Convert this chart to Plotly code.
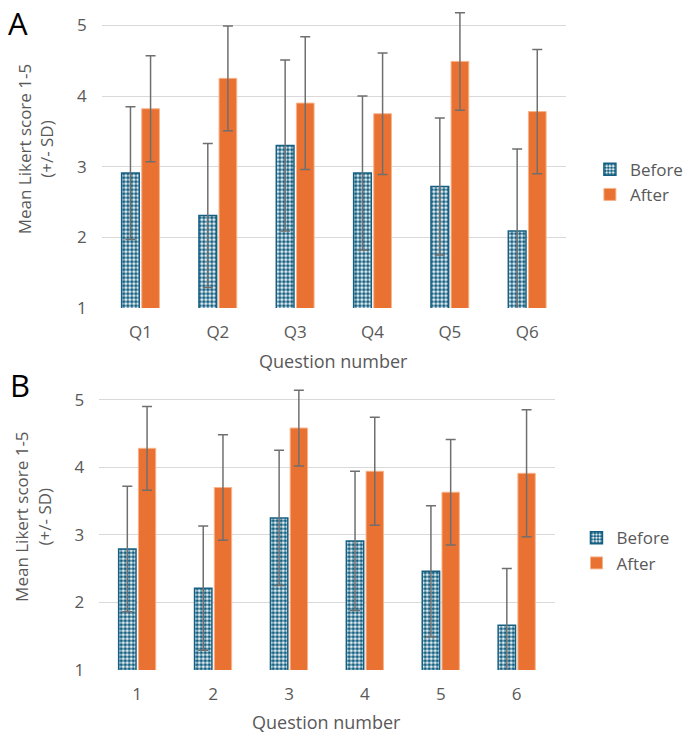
import plotly.graph_objects as go

# ---------------- data ----------------
cats_a = ["Q1", "Q2", "Q3", "Q4", "Q5", "Q6"]
before_a = [2.91, 2.31, 3.30, 2.91, 2.72, 2.09]
before_a_sd = [0.94, 1.02, 1.21, 1.09, 0.97, 1.16]
after_a = [3.82, 4.25, 3.90, 3.75, 4.49, 3.78]
after_a_sd = [0.75, 0.74, 0.94, 0.86, 0.69, 0.88]

cats_b = ["1", "2", "3", "4", "5", "6"]
before_b = [2.79, 2.21, 3.25, 2.91, 2.46, 1.66]
before_b_sd = [0.93, 0.92, 1.00, 1.03, 0.97, 0.84]
after_b = [4.28, 3.70, 4.58, 3.94, 3.63, 3.91]
after_b_sd = [0.62, 0.78, 0.56, 0.80, 0.78, 0.94]

y_ticks = [1, 2, 3, 4, 5]

# ---------------- style ----------------
BLUE = "#156082"
ORANGE = "#E97132"
GRAY_TXT = "#595959"
ERR = "#6f6f6f"
FONT = "Open Sans"

def before_trace(x, y, sd, xa, ya, leg):
    return go.Bar(
        x=x, y=y, name="Before", xaxis=xa, yaxis=ya, legend=leg,
        legendgroup=leg + "b",
        marker=dict(color="white", line=dict(color=BLUE, width=1.5),
                    pattern=dict(shape=".", fgcolor=BLUE, fgopacity=1,
                                 size=4, solidity=0.65)),
        error_y=dict(type="data", array=sd, visible=True, color=ERR,
                     thickness=1.5, width=5),
    )

def after_trace(x, y, sd, xa, ya, leg):
    return go.Bar(
        x=x, y=y, name="After", xaxis=xa, yaxis=ya, legend=leg,
        legendgroup=leg + "a",
        marker=dict(color=ORANGE, line=dict(color="#F6B48C", width=1)),
        error_y=dict(type="data", array=sd, visible=True, color=ERR,
                     thickness=1.5, width=5),
    )

fig = go.Figure()
fig.add_trace(before_trace(cats_a, before_a, before_a_sd, "x", "y", "legend"))
fig.add_trace(after_trace(cats_a, after_a, after_a_sd, "x", "y", "legend"))
fig.add_trace(before_trace(cats_b, before_b, before_b_sd, "x2", "y2", "legend2"))
fig.add_trace(after_trace(cats_b, after_b, after_b_sd, "x2", "y2", "legend2"))

W, H = 688, 744

def px_x(p):
    return p / W

def px_y(p):
    return 1 - p / H

yaxis_common = dict(
    range=[1, 5.25], tickvals=y_ticks, showgrid=True, gridcolor="#d9d9d9",
    gridwidth=1, zeroline=False, showline=False, ticks="",
    tickfont=dict(size=17, color=GRAY_TXT, family=FONT), ticklabelstandoff=14,
)
xaxis_common = dict(
    showgrid=False, zeroline=False, showline=False, ticks="",
    tickfont=dict(size=17, color=GRAY_TXT, family=FONT), ticklabelstandoff=12,
)

legend_common = dict(
    font=dict(size=17, color=GRAY_TXT, family=FONT), bgcolor="rgba(0,0,0,0)",
    traceorder="normal", tracegroupgap=16, itemwidth=30,
    xanchor="left", yanchor="middle",
)

fig.update_layout(
    width=W, height=H,
    margin=dict(l=0, r=0, t=0, b=0),
    paper_bgcolor="white", plot_bgcolor="white",
    barmode="group", bargap=0.48, bargroupgap=0.12,
    font=dict(family=FONT, color=GRAY_TXT),
    xaxis=dict(domain=[px_x(106), px_x(589)], anchor="y", **xaxis_common),
    yaxis=dict(domain=[px_y(312.7), px_y(7.8)], anchor="x", **yaxis_common),
    xaxis2=dict(domain=[px_x(103.3), px_x(577.3)], anchor="y2", **xaxis_common),
    yaxis2=dict(domain=[px_y(680), px_y(388.5)], anchor="x2", **yaxis_common),
    legend=dict(x=px_x(614), y=px_y(185), **legend_common),
    legend2=dict(x=px_x(600), y=px_y(559), **legend_common),
    showlegend=True,
)

annos = [
    dict(text="A", x=px_x(6), y=1, xanchor="left", yanchor="top",
         font=dict(size=31, color="black", family=FONT)),
    dict(text="B", x=px_x(8), y=px_y(391), xanchor="left", yanchor="middle",
         font=dict(size=31, color="black", family=FONT)),
    dict(text="Mean Likert score 1-5<br>(+/- SD)", x=px_x(37), y=px_y(152),
         textangle=-90, xanchor="center", yanchor="middle",
         font=dict(size=17, color=GRAY_TXT, family=FONT)),
    dict(text="Mean Likert score 1-5<br>(+/- SD)", x=px_x(34), y=px_y(525),
         textangle=-90, xanchor="center", yanchor="middle",
         font=dict(size=17, color=GRAY_TXT, family=FONT)),
    dict(text="Question number", x=px_x(347), y=px_y(366),
         xanchor="center", yanchor="middle",
         font=dict(size=18, color=GRAY_TXT, family=FONT)),
    dict(text="Question number", x=px_x(340), y=px_y(733),
         xanchor="center", yanchor="middle",
         font=dict(size=18, color=GRAY_TXT, family=FONT)),
]
for a in annos:
    a.update(xref="paper", yref="paper", showarrow=False)
    fig.add_annotation(**a)

fig.write_html("out.html")
